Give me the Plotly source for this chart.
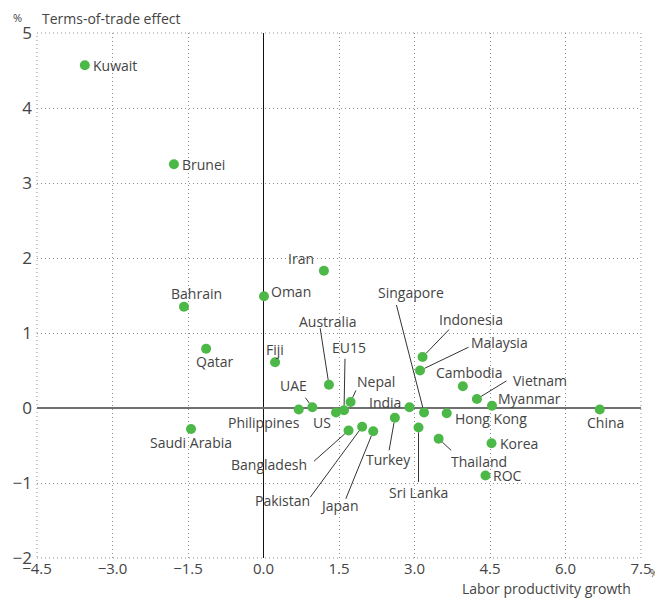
import plotly.graph_objects as go

countries = ["Kuwait", "Brunei", "Iran", "Oman", "Bahrain", "Qatar", "Fiji", "Saudi Arabia",
             "Australia", "EU15", "Nepal", "UAE", "Philippines", "US", "India", "Singapore",
             "Indonesia", "Malaysia", "Cambodia", "Vietnam", "Myanmar", "Hong Kong", "China",
             "Korea", "ROC", "Thailand", "Sri Lanka", "Turkey", "Bangladesh", "Pakistan", "Japan"]
productivity = [-3.55, -1.78, 1.20, 0.01, -1.58, -1.14, 0.23, -1.44,
                1.30, 1.60, 1.73, 0.97, 0.70, 1.44, 2.90, 3.19,
                3.16, 3.11, 3.96, 4.24, 4.54, 3.64, 6.68,
                4.53, 4.41, 3.48, 3.08, 2.61, 1.69, 1.96, 2.18]
tot_effect = [4.57, 3.25, 1.83, 1.49, 1.35, 0.79, 0.61, -0.28,
              0.31, -0.03, 0.08, 0.01, -0.02, -0.06, 0.01, -0.06,
              0.68, 0.50, 0.29, 0.12, 0.03, -0.07, -0.02,
              -0.47, -0.90, -0.41, -0.26, -0.13, -0.30, -0.25, -0.31]

x_ticks = [-4.5, -3.0, -1.5, 0.0, 1.5, 3.0, 4.5, 6.0, 7.5]
x_tick_labels = ["−4.5", "−3.0", "−1.5", "0.0", "1.5", "3.0", "4.5", "6.0", "7.5"]
y_ticks = [-2, -1, 0, 1, 2, 3, 4, 5]
y_tick_labels = ["−2", "−1", "0", "1", "2", "3", "4", "5"]

# label placement in pixels relative to the point (x right, y down)
# leader-line labels: (line tail dx, dy, text centre dx, dy)
leader = {
    "Australia": (-9, -58, -1, -63), "EU15": (1, -53, 5, -63), "Nepal": (6, -13, 25, -21),
    "UAE": (-8, -11, -19, -22), "Singapore": (-28, -109, -13, -120),
    "Indonesia": (28, -29, 48, -38), "Malaysia": (50, -24, 79, -28),
    "Vietnam": (31, -19, 63, -19), "Thailand": (14, 13, 40, 23), "Sri Lanka": (0, 56, 0, 65),
    "Turkey": (-6, 34, -6, 42), "Bangladesh": (-36, 32, -80, 34),
    "Pakistan": (-53, 72, -80, 74), "Japan": (-28, 69, -34, 74),
}
# plain labels: (xanchor, dx, dy)
plain = {
    "Kuwait": ("left", 6, 0), "Brunei": ("left", 6, 0), "Iran": ("right", -8, -12),
    "Oman": ("left", 5, -5), "Bahrain": ("center", 13, -13), "Qatar": ("center", 8, 13),
    "Fiji": ("center", 0, -13), "Saudi Arabia": ("center", 0, 13),
    "Philippines": ("right", 3, 13), "US": ("center", -14, 10), "India": ("right", -6, -5),
    "Cambodia": ("center", 6, -14), "Myanmar": ("left", 4, -7), "Hong Kong": ("left", 6, 5),
    "China": ("center", 6, 13), "Korea": ("left", 6, 0), "ROC": ("left", 6, 0),
}

GREEN = "#4cb848"
TXT = "#444444"
LINE = "#333333"
GRID = "#8f8f8f"
DOT = "1px,3px"
FONT = "Open Sans"
LABEL_FONT = dict(family=FONT, size=14, color=TXT)

fig = go.Figure()
fig.add_trace(go.Scatter(
    x=productivity, y=tot_effect, mode="markers",
    marker=dict(color=GREEN, size=10, line=dict(width=0)),
    text=countries, hoverinfo="text", showlegend=False,
))

annotations = []
for name, xv, yv in zip(countries, productivity, tot_effect):
    if name in leader:
        lx, ly, tx, ty = leader[name]
        annotations.append(dict(
            x=xv, y=yv, text="", showarrow=True, arrowhead=0, arrowwidth=1,
            arrowcolor=LINE, ax=lx, ay=ly, standoff=5,
        ))
        annotations.append(dict(
            x=xv, y=yv, text=name, showarrow=False, xanchor="center", yanchor="middle",
            xshift=tx, yshift=-ty, font=LABEL_FONT,
        ))
    else:
        xa, dx, dy = plain[name]
        annotations.append(dict(
            x=xv, y=yv, text=name, showarrow=False, xanchor=xa, yanchor="middle",
            xshift=dx, yshift=-dy, font=LABEL_FONT,
        ))

annotations += [
    dict(xref="paper", yref="paper", x=0, y=1.0, xshift=-26, yshift=6, xanchor="left", yanchor="bottom",
         text="%", showarrow=False, font=dict(family=FONT, size=11, color=TXT)),
    dict(xref="paper", yref="paper", x=0, y=1.0, xshift=3, yshift=3, xanchor="left", yanchor="bottom",
         text="Terms-of-trade effect", showarrow=False, font=dict(family=FONT, size=14, color=TXT)),
    dict(xref="paper", yref="paper", x=1.0, y=0.0, xshift=7, yshift=-24, xanchor="left",
         yanchor="bottom", text="%", showarrow=False, font=dict(family=FONT, size=10, color=TXT)),
    dict(xref="paper", yref="paper", x=1.0, y=0.0, xshift=-8, yshift=-42, xanchor="right", yanchor="bottom",
         text="Labor productivity growth", showarrow=False,
         font=dict(family=FONT, size=14, color=TXT)),
]

# page body adds an 8px offset, so the figure is 8px smaller and margins compensate
fig.update_layout(
    width=655, height=591,
    margin=dict(l=29, r=22, t=25, b=41),
    plot_bgcolor="white", paper_bgcolor="white",
    annotations=annotations,
    font=dict(family=FONT, color=TXT),
    shapes=[dict(type="rect", xref="paper", yref="paper", x0=0, x1=1, y0=0, y1=1,
                 line=dict(color=GRID, width=1, dash=DOT), layer="below")],
)
fig.update_xaxes(
    range=[-4.5, 7.5], tickvals=x_ticks, ticktext=x_tick_labels, automargin=False,
    showgrid=True, gridcolor=GRID, griddash=DOT, gridwidth=1,
    zeroline=True, zerolinecolor="#111111", zerolinewidth=1,
    showline=False, ticks="", tickfont=dict(family=FONT, size=15, color=TXT),
)
fig.update_yaxes(
    range=[-2, 5], tickvals=y_ticks, ticktext=y_tick_labels, automargin=False,
    showgrid=True, gridcolor=GRID, griddash=DOT, gridwidth=1,
    zeroline=True, zerolinecolor="#707070", zerolinewidth=2,
    showline=False, ticks="", ticklabelstandoff=4, tickfont=dict(family=FONT, size=17, color=TXT),
)

fig.write_html("out.html")
